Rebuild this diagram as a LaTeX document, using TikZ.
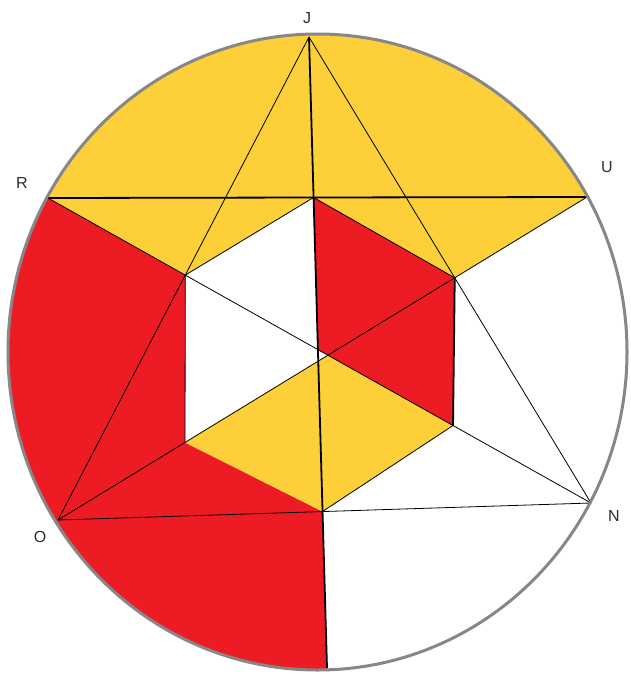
\documentclass[tikz,border=0pt]{standalone}
\usepackage{fontspec}
\setmainfont{Liberation Sans}
\definecolor{gold}{RGB}{253,208,58}
\definecolor{redf}{RGB}{237,28,36}
\definecolor{rim}{RGB}{135,135,135}
\definecolor{ink}{RGB}{45,45,45}
\begin{document}
\begin{tikzpicture}[x=1pt,y=-1pt,
  thinline/.style={black,line width=0.8pt},
  boldline/.style={black,line width=1.8pt},
  lab/.style={font=\fontsize{16}{18}\selectfont,text=ink,inner sep=0pt}]
\useasboundingbox (0,0) rectangle (630,677);
% points on the circle
\coordinate (J) at (309,37);
\coordinate (R) at (48,198);
\coordinate (U) at (587,197);
\coordinate (O) at (58,520);
\coordinate (N) at (591,503);
\coordinate (B) at (327,668);
% hexagon points
\coordinate (T)  at (intersection of R--U and J--B);
\coordinate (UL) at (intersection of J--O and R--N);
\coordinate (UR) at (intersection of J--N and U--O);
\coordinate (LR) at (intersection of R--N and 453,300--453,500);
\coordinate (LL) at (intersection of U--O and 185,300--185,500);
\coordinate (Bh) at (intersection of O--N and J--B);
\coordinate (X1) at (intersection of U--O and J--B);
\coordinate (X2) at (intersection of U--O and R--N);
\coordinate (X3) at (intersection of R--N and J--B);
% fills reaching the rim
\begin{scope}
  \clip (317.5,352) ellipse [x radius=309.5, y radius=318];
  \fill[gold] (R) -- (U) -- (700,197) -- (700,-20) -- (-20,-20) -- (-20,198) -- cycle;
  \fill[redf] (R) -- (UL) -- (LL) -- (Bh) -- (B) -- (328,720) -- (-20,720) -- (-20,198) -- cycle;
\end{scope}
\fill[gold] (R) -- (T) -- (UL) -- cycle;
\fill[gold] (T) -- (U) -- (UR) -- cycle;
\fill[redf] (T) -- (UR) -- (LR) -- (X3) -- cycle;
\fill[gold] (LL) -- (X1) -- (X2) -- (LR) -- (Bh) -- cycle;
% lines
\draw[boldline] (R) -- (U);
\draw[boldline] (J) -- (B);
\draw[thinline] (J) -- (O);
\draw[thinline] (J) -- (N);
\draw[thinline] (R) -- (N);
\draw[thinline] (U) -- (O);
\draw[thinline] (O) -- (N);
\draw[thinline] (UL) -- (T) -- (UR);
\draw[thinline] (UL) -- (LL);
\draw[boldline] (UR) -- (LR);
\draw[thinline] (LR) -- (Bh);
% rim
\draw[rim,line width=3pt] (317.5,352) ellipse [x radius=309.5, y radius=318];
% labels
\node[lab] (lJ) at (307,18) {J};
\node[lab] (lR) at (22,183) {R};
\node[lab] (lU) at (607,167) {U};
\node[lab] (lO) at (40,537) {O};
\node[lab] (lN) at (614,516) {N};
\end{tikzpicture}
\end{document}
